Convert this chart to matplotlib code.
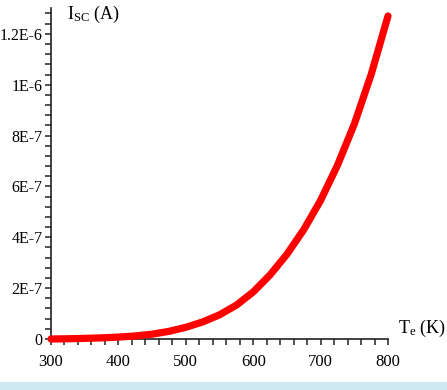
import matplotlib
matplotlib.use("Agg")
import matplotlib.pyplot as plt
from matplotlib.ticker import MultipleLocator, FixedLocator, FixedFormatter
from matplotlib.patches import Rectangle

# Data
temperature_K = [300, 325, 350, 375, 400, 425, 450, 475, 500, 525, 550,
                 575, 600, 625, 650, 675, 700, 725, 750, 775, 800]
isc_A = [0.0, 0.1e-8, 0.25e-8, 0.45e-8, 0.75e-8, 1.2e-8, 1.9e-8, 3.0e-8,
         4.6e-8, 6.7e-8, 9.5e-8, 1.33e-7, 1.85e-7, 2.52e-7, 3.33e-7,
         4.3e-7, 5.45e-7, 6.83e-7, 8.45e-7, 1.04e-6, 1.27e-6]

x_ticks = [300, 400, 500, 600, 700, 800]
y_ticks = [0, 2e-7, 4e-7, 6e-7, 8e-7, 1e-6, 1.2e-6]
y_tick_labels = ["0", "2E-7", "4E-7", "6E-7", "8E-7", "1E-6", "1.2E-6"]

plt.rcParams['font.family'] = ['Liberation Serif', 'DejaVu Serif']
plt.rcParams['mathtext.fontset'] = 'custom'
plt.rcParams['mathtext.rm'] = 'Liberation Serif'
plt.rcParams['mathtext.it'] = 'Liberation Serif'

fig = plt.figure(figsize=(4.47, 3.90), dpi=100)
ax = fig.add_axes([51/447, 51/390, (388-51)/447, (339.3-8.7)/390])

ax.plot(temperature_K, isc_A, color='#ff0000', lw=5.2, solid_capstyle='round',
        solid_joinstyle='round', clip_on=False, zorder=3)

ax.set_xlim(300, 800)
ax.set_ylim(0, 1.3e-6)

for s in ['top', 'right']:
    ax.spines[s].set_visible(False)
for s in ['left', 'bottom']:
    ax.spines[s].set_linewidth(1.2)
    ax.spines[s].set_color('#222222')

ax.xaxis.set_major_locator(FixedLocator(x_ticks))
ax.xaxis.set_minor_locator(MultipleLocator(20))
ax.yaxis.set_major_locator(FixedLocator(y_ticks))
ax.yaxis.set_major_formatter(FixedFormatter(y_tick_labels))
ax.yaxis.set_minor_locator(MultipleLocator(4e-8))

ax.tick_params(axis='both', which='both', direction='out', length=4.5,
               width=1.1, color='#222222')
ax.tick_params(axis='x', which='major', pad=6, labelsize=12)
ax.tick_params(axis='y', which='major', pad=1.5, labelsize=11.5)

fig.text(67/447, 1 - 14/390, r'$\mathregular{I_{SC}}$ (A)', fontsize=13,
         ha='left', va='center')
fig.text(398/447, 1 - 328/390, r'$\mathregular{T_{e}}$ (K)', fontsize=13,
         ha='left', va='center')

# caption band at the bottom (cut off in the reference)
fig.patches.append(Rectangle((0, 0), 1, 8/390, transform=fig.transFigure,
                             facecolor='#cde8f0', edgecolor='none'))

fig.savefig('out.png', dpi=100)
